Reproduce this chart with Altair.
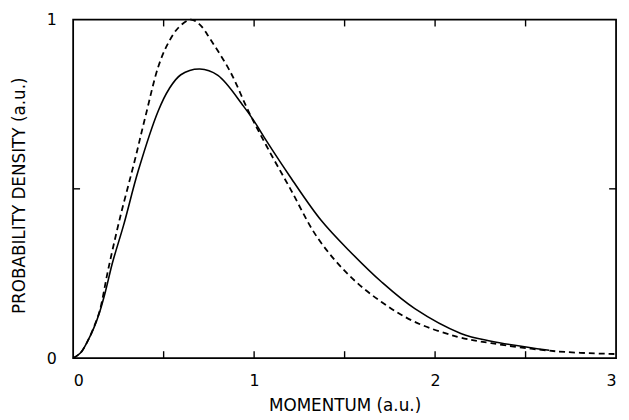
import altair as alt
import pandas as pd

# Solid curve
solid_x = [0.0, 0.04, 0.08, 0.115, 0.147, 0.18, 0.218, 0.28, 0.36, 0.47, 0.53, 0.595, 0.70, 0.80,
           0.94, 1.00, 1.07, 1.20, 1.369, 1.524, 1.706, 1.888, 2.142, 2.31, 2.63]
solid_y = [0.0, 0.015, 0.05, 0.09, 0.137, 0.20, 0.283, 0.395, 0.554, 0.73, 0.795, 0.837, 0.854, 0.835,
           0.745, 0.70, 0.64, 0.535, 0.408, 0.318, 0.224, 0.146, 0.073, 0.05, 0.023]

# Dashed curve
dashed_x = [0.0, 0.04, 0.08, 0.115, 0.147, 0.193, 0.256, 0.34, 0.40, 0.47, 0.52, 0.58, 0.65, 0.70,
            0.76, 0.869, 0.969, 1.07, 1.20, 1.351, 1.524, 1.706, 1.888, 2.124, 2.31, 2.67, 3.00]
dashed_y = [0.0, 0.015, 0.05, 0.092, 0.14, 0.26, 0.408, 0.583, 0.715, 0.86, 0.925, 0.975, 1.0, 0.985,
            0.94, 0.845, 0.729, 0.625, 0.50, 0.355, 0.245, 0.165, 0.107, 0.063, 0.044, 0.02, 0.012]

x_label_values = [0, 1, 2, 3]
y_label_values = [0, 1]
x_minor_ticks = [0.5, 1.0, 1.5, 2.0, 2.5]
y_minor_ticks = [0.5]

W, H = 550, 343
FONT = "DejaVu Sans"
TICK = 7

xs = alt.Scale(domain=[0, 3], nice=False, zero=False)
ys = alt.Scale(domain=[0, 1], nice=False, zero=False)

solid_df = pd.DataFrame({"p": solid_x, "d": solid_y})
dashed_df = pd.DataFrame({"p": dashed_x, "d": dashed_y})
xt_df = pd.DataFrame({"t": x_minor_ticks})
yt_df = pd.DataFrame({"t": y_minor_ticks})

x_axis = alt.Axis(values=x_label_values, format="d", title="MOMENTUM  (a.u.)",
                  grid=False, ticks=False, domain=False,
                  labelFont=FONT, labelFontSize=16, labelPadding=15, labelColor="black",
                  titleFont=FONT, titleFontSize=17, titleFontWeight="normal", titleColor="black",
                  titleY=40, titleBaseline="top")
y_axis = alt.Axis(values=y_label_values, format="d", title="PROBABILITY DENSITY  (a.u.)",
                  grid=False, ticks=False, domain=False,
                  labelFont=FONT, labelFontSize=16, labelPadding=17, labelColor="black",
                  titleFont=FONT, titleFontSize=17, titleFontWeight="normal", titleColor="black",
                  titleX=-54, titleY=178, titleBaseline="middle", titleAngle=270)

solid = alt.Chart(solid_df).mark_line(color="black", strokeWidth=1.6, interpolate="catmull-rom").encode(
    x=alt.X("p:Q", scale=xs, axis=x_axis),
    y=alt.Y("d:Q", scale=ys, axis=y_axis),
    order="p:Q",
)
dashed = alt.Chart(dashed_df).mark_line(color="black", strokeWidth=1.8, strokeDash=[6, 4],
                                       interpolate="catmull-rom").encode(
    x=alt.X("p:Q", scale=xs),
    y=alt.Y("d:Q", scale=ys),
    order="p:Q",
)

tick_bottom = alt.Chart(xt_df).mark_rule(color="black", strokeWidth=1.4).encode(
    x=alt.X("t:Q", scale=xs), y=alt.value(H), y2=alt.value(H - TICK))
tick_top = alt.Chart(xt_df).mark_rule(color="black", strokeWidth=1.4).encode(
    x=alt.X("t:Q", scale=xs), y=alt.value(0), y2=alt.value(TICK))
tick_left = alt.Chart(yt_df).mark_rule(color="black", strokeWidth=1.4).encode(
    y=alt.Y("t:Q", scale=ys), x=alt.value(0), x2=alt.value(TICK))
tick_right = alt.Chart(yt_df).mark_rule(color="black", strokeWidth=1.4).encode(
    y=alt.Y("t:Q", scale=ys), x=alt.value(W), x2=alt.value(W - TICK))

chart = alt.layer(solid, dashed, tick_bottom, tick_top, tick_left, tick_right).properties(
    width=W, height=H,
    padding={"left": 66, "top": 9, "right": 5, "bottom": 60},
    autosize=alt.AutoSizeParams(type="none"),
    background="white",
).configure_view(stroke="black", strokeWidth=1.8)

chart.save("out.html", embed_options={"renderer": "svg", "actions": False})
